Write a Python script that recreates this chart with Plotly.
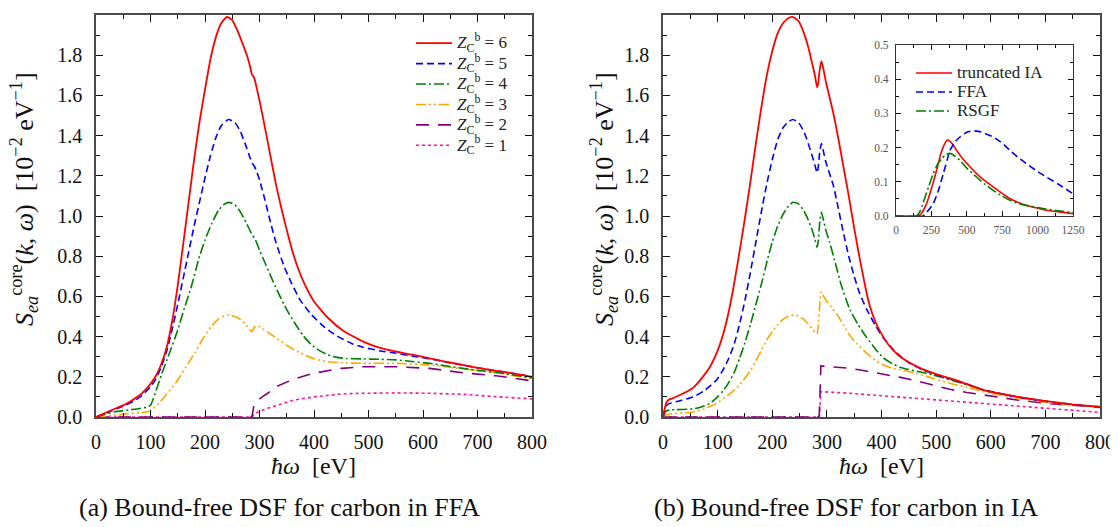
import plotly.graph_objects as go

# ---------------- data: left panel (FFA) ----------------
ffa_z6_x = [0, 10, 25, 40, 55, 70, 85, 100, 110, 120, 130, 140, 150, 160, 170, 180, 190, 200, 210, 220, 230, 240, 250, 260, 270, 278, 283, 286, 290, 295, 300, 310, 320, 330, 340, 350, 360, 370, 383, 400, 425, 453, 490, 520, 551, 580, 612, 640, 673, 700, 734, 770, 800]
ffa_z6_y = [0, 0.012, 0.03, 0.047, 0.065, 0.09, 0.12, 0.165, 0.205, 0.265, 0.35, 0.48, 0.655, 0.86, 1.07, 1.28, 1.47, 1.63, 1.78, 1.89, 1.96, 1.99, 1.975, 1.92, 1.85, 1.79, 1.74, 1.705, 1.69, 1.635, 1.575, 1.44, 1.30, 1.16, 1.04, 0.93, 0.83, 0.745, 0.66, 0.575, 0.495, 0.43, 0.375, 0.345, 0.325, 0.31, 0.292, 0.276, 0.259, 0.245, 0.23, 0.215, 0.2]

ffa_z5_x = [0, 10, 25, 40, 55, 70, 85, 100, 110, 120, 130, 140, 150, 160, 170, 180, 190, 200, 210, 220, 230, 243, 255, 265, 275, 282, 286, 290, 295, 300, 310, 320, 330, 345, 358, 375, 395, 420, 441, 470, 490, 520, 551, 580, 612, 640, 673, 700, 734, 770, 800]
ffa_z5_y = [0, 0.01, 0.027, 0.043, 0.06, 0.08, 0.108, 0.15, 0.19, 0.25, 0.33, 0.44, 0.56, 0.69, 0.82, 0.95, 1.07, 1.19, 1.30, 1.39, 1.45, 1.48, 1.465, 1.42, 1.35, 1.295, 1.265, 1.25, 1.22, 1.18, 1.08, 0.97, 0.87, 0.75, 0.67, 0.58, 0.51, 0.445, 0.405, 0.365, 0.347, 0.33, 0.317, 0.303, 0.29, 0.275, 0.258, 0.245, 0.23, 0.215, 0.2]

ffa_z4_x = [0, 15, 34, 60, 80, 95, 100, 105, 110, 120, 135, 150, 162, 175, 190, 200, 212, 225, 235, 244, 255, 265, 275, 283, 287, 292, 300, 312, 324, 335, 345, 355, 364, 380, 395, 410, 425, 440, 460, 490, 520, 551, 580, 612, 640, 673, 700, 734, 770, 800]
ffa_z4_y = [0, 0.012, 0.026, 0.035, 0.042, 0.05, 0.058, 0.09, 0.13, 0.21, 0.32, 0.433, 0.54, 0.65, 0.80, 0.88, 0.96, 1.03, 1.058, 1.068, 1.055, 1.02, 0.97, 0.925, 0.905, 0.885, 0.83, 0.755, 0.68, 0.615, 0.56, 0.51, 0.47, 0.405, 0.36, 0.33, 0.31, 0.298, 0.291, 0.289, 0.287, 0.284, 0.276, 0.267, 0.255, 0.242, 0.232, 0.222, 0.208, 0.195]

ffa_z3_x = [0, 30, 58, 80, 95, 100, 105, 115, 130, 150, 165, 181, 195, 211, 225, 235, 242, 255, 265, 275, 283, 286, 289, 293, 298, 305, 315, 327, 340, 355, 376, 400, 425, 450, 490, 551, 612, 673, 734, 800]
ffa_z3_y = [0, 0.008, 0.016, 0.021, 0.026, 0.03, 0.042, 0.068, 0.115, 0.184, 0.25, 0.317, 0.385, 0.449, 0.488, 0.503, 0.507, 0.50, 0.485, 0.46, 0.432, 0.424, 0.44, 0.452, 0.452, 0.44, 0.422, 0.40, 0.375, 0.348, 0.317, 0.29, 0.275, 0.27, 0.267, 0.267, 0.259, 0.24, 0.22, 0.19]

ffa_z2_x = [0, 286, 290, 296, 305, 315, 330, 364, 400, 450, 490, 551, 612, 673, 734, 800]
ffa_z2_y = [0, 0, 0.06, 0.08, 0.10, 0.118, 0.15, 0.19, 0.218, 0.242, 0.25, 0.25, 0.242, 0.22, 0.205, 0.18]

ffa_z1_x = [0, 286, 290, 300, 315, 340, 364, 400, 450, 490, 551, 612, 673, 734, 800]
ffa_z1_y = [0, 0, 0.015, 0.028, 0.043, 0.065, 0.085, 0.10, 0.115, 0.118, 0.12, 0.118, 0.113, 0.101, 0.09]

# ---------------- data: right panel (IA) ----------------
ia_z6_x = [0, 3, 6, 10, 15, 30, 45, 55, 70, 86, 100, 110, 120, 130, 140, 150, 160, 170, 180, 190, 200, 210, 220, 230, 238, 248, 258, 266, 273, 278, 282, 284, 287, 290, 293, 298, 305, 312, 320, 330, 340, 350, 360, 368, 375, 383, 392, 403, 415, 430, 450, 475, 500, 525, 560, 587, 620, 648, 680, 709, 750, 800]
ia_z6_y = [0, 0.04, 0.07, 0.085, 0.09, 0.108, 0.128, 0.145, 0.19, 0.25, 0.33, 0.41, 0.52, 0.66, 0.82, 0.99, 1.17, 1.36, 1.54, 1.70, 1.82, 1.91, 1.96, 1.985, 1.99, 1.97, 1.91, 1.84, 1.76, 1.70, 1.64, 1.66, 1.73, 1.77, 1.74, 1.67, 1.59, 1.51, 1.40, 1.25, 1.10, 0.94, 0.79, 0.68, 0.59, 0.515, 0.455, 0.40, 0.352, 0.31, 0.272, 0.238, 0.213, 0.193, 0.16, 0.134, 0.115, 0.101, 0.088, 0.076, 0.062, 0.051]

ia_z5_x = [0, 3, 6, 10, 15, 30, 55, 75, 98, 110, 120, 130, 140, 150, 160, 170, 180, 190, 200, 210, 220, 230, 238, 248, 258, 266, 273, 278, 282, 284, 287, 290, 293, 298, 305, 312, 320, 330, 340, 350, 360, 373, 390, 403, 420, 434, 450, 475, 500, 525, 560, 587, 648, 709, 800]
ia_z5_y = [0, 0.03, 0.055, 0.065, 0.07, 0.08, 0.10, 0.13, 0.184, 0.235, 0.29, 0.36, 0.46, 0.58, 0.72, 0.87, 1.02, 1.16, 1.28, 1.38, 1.44, 1.47, 1.48, 1.465, 1.42, 1.36, 1.30, 1.255, 1.215, 1.24, 1.32, 1.36, 1.33, 1.27, 1.21, 1.15, 1.05, 0.92, 0.80, 0.70, 0.615, 0.535, 0.45, 0.395, 0.34, 0.303, 0.27, 0.235, 0.21, 0.19, 0.16, 0.135, 0.10, 0.075, 0.05]

ia_z4_x = [0, 3, 6, 13, 55, 70, 86, 100, 110, 120, 130, 140, 150, 160, 170, 180, 190, 200, 210, 220, 230, 238, 248, 258, 266, 273, 278, 282, 284, 287, 290, 293, 298, 305, 315, 327, 342, 357, 373, 390, 403, 420, 434, 450, 464, 495, 525, 560, 587, 648, 709, 800]
ia_z4_y = [0, 0.02, 0.03, 0.035, 0.04, 0.05, 0.068, 0.10, 0.13, 0.17, 0.22, 0.29, 0.37, 0.46, 0.56, 0.66, 0.77, 0.87, 0.95, 1.01, 1.05, 1.068, 1.06, 1.025, 0.98, 0.93, 0.885, 0.845, 0.87, 0.97, 1.018, 0.99, 0.93, 0.87, 0.77, 0.65, 0.535, 0.46, 0.395, 0.335, 0.295, 0.265, 0.248, 0.236, 0.228, 0.209, 0.185, 0.158, 0.134, 0.10, 0.075, 0.05]

ia_z3_x = [0, 3, 13, 55, 75, 98, 120, 135, 147, 160, 170, 180, 190, 200, 210, 220, 230, 239, 248, 258, 266, 273, 278, 282, 284, 287, 290, 294, 300, 310, 318, 330, 342, 355, 373, 390, 403, 420, 434, 464, 495, 525, 560, 587, 648, 709, 800]
ia_z3_y = [0, 0.008, 0.015, 0.025, 0.04, 0.068, 0.11, 0.145, 0.184, 0.23, 0.28, 0.33, 0.383, 0.425, 0.46, 0.487, 0.502, 0.507, 0.502, 0.485, 0.462, 0.44, 0.422, 0.413, 0.45, 0.56, 0.623, 0.60, 0.575, 0.54, 0.513, 0.46, 0.405, 0.365, 0.317, 0.28, 0.259, 0.243, 0.235, 0.217, 0.192, 0.168, 0.145, 0.126, 0.095, 0.07, 0.048]

ia_z2_x = [0, 286, 289, 300, 320, 340, 361, 403, 435, 464, 495, 525, 556, 587, 620, 648, 700, 739, 800]
ia_z2_y = [0, 0, 0.254, 0.252, 0.25, 0.243, 0.234, 0.214, 0.197, 0.18, 0.16, 0.138, 0.122, 0.109, 0.097, 0.085, 0.068, 0.06, 0.048]

ia_z1_x = [0, 286, 289, 300, 342, 361, 403, 464, 525, 587, 648, 709, 750, 800]
ia_z1_y = [0, 0, 0.126, 0.125, 0.118, 0.114, 0.105, 0.093, 0.08, 0.068, 0.056, 0.043, 0.034, 0.023]

# ---------------- data: inset ----------------
inset_ia_x = [0, 150, 175, 216, 250, 287, 315, 334, 350, 362, 380, 400, 428, 470, 522, 600, 686, 750, 804, 860, 921, 1000, 1062, 1150, 1250]
inset_ia_y = [0, 0, 0.005, 0.036, 0.08, 0.134, 0.18, 0.202, 0.216, 0.222, 0.219, 0.21, 0.192, 0.168, 0.144, 0.112, 0.085, 0.066, 0.051, 0.04, 0.031, 0.023, 0.017, 0.012, 0.007]

inset_ffa_x = [0, 190, 215, 263, 300, 334, 360, 381, 420, 451, 500, 545, 600, 686, 750, 804, 860, 921, 1000, 1062, 1150, 1250]
inset_ffa_y = [0, 0, 0.01, 0.036, 0.075, 0.124, 0.162, 0.192, 0.218, 0.231, 0.245, 0.249, 0.246, 0.231, 0.213, 0.192, 0.172, 0.153, 0.13, 0.114, 0.092, 0.065]

inset_rsgf_x = [0, 140, 165, 193, 230, 263, 295, 322, 350, 376, 400, 451, 500, 569, 630, 686, 750, 804, 860, 921, 1000, 1062, 1150, 1250]
inset_rsgf_y = [0, 0, 0.01, 0.04, 0.085, 0.124, 0.152, 0.168, 0.178, 0.183, 0.18, 0.163, 0.14, 0.114, 0.092, 0.075, 0.058, 0.046, 0.037, 0.031, 0.025, 0.02, 0.015, 0.01]

z_labels = ["6", "5", "4", "3", "2", "1"]
inset_labels = ["truncated IA", "FFA", "RSGF"]
x_ticks = [0, 100, 200, 300, 400, 500, 600, 700, 800]
y_ticks = [0.0, 0.2, 0.4, 0.6, 0.8, 1.0, 1.2, 1.4, 1.6, 1.8, 2.0]
inset_x_ticks = [0, 250, 500, 750, 1000, 1250]
inset_y_ticks = [0.0, 0.1, 0.2, 0.3, 0.4, 0.5]
captions = ["(a) Bound-free DSF for carbon in FFA", "(b) Bound-free DSF for carbon in IA"]

# ---------------- styles ----------------
colors = ["#FF0000", "#0000FF", "#008000", "#FFA500", "#800080", "#FF1493"]
dashes = ["solid", "7px,4px", "10px,3px,2px,3px", "10px,3px,2px,3px,2px,3px", "13px,9px", "3px,3px"]
widths = [1.8, 1.6, 1.6, 1.6, 1.6, 1.6]
shapes_ = ["spline", "spline", "spline", "spline", "linear", "linear"]
FONT = "Liberation Serif, DejaVu Serif, serif"

# figure is placed 8 px from the page's top-left corner (body margin)
W, H = 1110, 519
OFF = 8


def px(x):
    return (x - OFF) / W


def py(y):
    return 1 - (y - OFF) / H


ffa = [(ffa_z6_x, ffa_z6_y), (ffa_z5_x, ffa_z5_y), (ffa_z4_x, ffa_z4_y),
       (ffa_z3_x, ffa_z3_y), (ffa_z2_x, ffa_z2_y), (ffa_z1_x, ffa_z1_y)]
ia = [(ia_z6_x, ia_z6_y), (ia_z5_x, ia_z5_y), (ia_z4_x, ia_z4_y),
      (ia_z3_x, ia_z3_y), (ia_z2_x, ia_z2_y), (ia_z1_x, ia_z1_y)]
inset = [(inset_ia_x, inset_ia_y), (inset_ffa_x, inset_ffa_y), (inset_rsgf_x, inset_rsgf_y)]

fig = go.Figure()

for i in reversed(range(6)):
    xs, ys = ffa[i]
    fig.add_trace(go.Scatter(
        x=xs, y=ys, mode="lines", xaxis="x", yaxis="y",
        name='<span style="font-size:17px"><i>Z</i><sub>C</sub><sup>b</sup> = ' + z_labels[i] + "</span>",
        line=dict(color=colors[i], dash=dashes[i], width=widths[i], shape=shapes_[i], smoothing=0.5),
        legend="legend", legendrank=i, showlegend=True))
for i in reversed(range(6)):
    xs, ys = ia[i]
    fig.add_trace(go.Scatter(
        x=xs, y=ys, mode="lines", xaxis="x2", yaxis="y2", showlegend=False,
        line=dict(color=colors[i], dash=dashes[i], width=widths[i], shape=shapes_[i], smoothing=0.5)))

inset_colors = ["#FF0000", "#0000FF", "#008000"]
inset_dashes = ["solid", "7px,4px", "10px,3px,2px,3px"]
for i in range(3):
    xs, ys = inset[i]
    fig.add_trace(go.Scatter(
        x=xs, y=ys, mode="lines", xaxis="x3", yaxis="y3",
        name='<span style="font-size:17px">' + inset_labels[i] + "</span>", legend="legend2",
        line=dict(color=inset_colors[i], dash=inset_dashes[i], width=1.6, shape="spline", smoothing=0.5)))

AX_LINE = "#4a4a4a"
TICKC = "#111111"


def main_x(domain, anchor):
    return dict(domain=domain, anchor=anchor, range=[0, 800], tickvals=x_ticks,
                ticktext=[str(v) for v in x_ticks], automargin=False,
                ticks="inside", ticklen=7, tickwidth=1.2, tickcolor=TICKC,
                minor=dict(dtick=50, ticks="inside", ticklen=4, tickwidth=1, tickcolor=TICKC),
                showline=True, linecolor=AX_LINE, linewidth=1.6, mirror="allticks",
                showgrid=False, zeroline=False, ticklabelstandoff=6,
                tickfont=dict(family=FONT, size=20, color="#111"))


def main_y(domain, anchor):
    return dict(domain=domain, anchor=anchor, range=[0, 2.0], tickvals=y_ticks,
                ticktext=["%.1f" % v for v in y_ticks], automargin=False,
                ticks="inside", ticklen=7, tickwidth=1.2, tickcolor=TICKC,
                minor=dict(dtick=0.1, ticks="inside", ticklen=4, tickwidth=1, tickcolor=TICKC),
                showline=True, linecolor=AX_LINE, linewidth=1.6, mirror="allticks",
                showgrid=False, zeroline=False, ticklabelstandoff=8,
                tickfont=dict(family=FONT, size=20, color="#111"))


ydom = [py(417), py(15)]
fig.update_layout(
    width=W, height=H,
    margin=dict(l=0, r=0, t=0, b=0, pad=0, autoexpand=False),
    paper_bgcolor="white", plot_bgcolor="white",
    font=dict(family=FONT, color="#111", size=16),
    xaxis=main_x([px(96), px(532)], "y"),
    yaxis=main_y(ydom, "x"),
    xaxis2=main_x([px(663), px(1100)], "y2"),
    yaxis2=main_y(ydom, "x2"),
    xaxis3=dict(domain=[px(896), px(1073)], anchor="y3", range=[0, 1250], automargin=False,
                tickvals=inset_x_ticks, ticks="inside", ticklen=5, tickwidth=1, tickcolor=TICKC,
                minor=dict(dtick=125, ticks="inside", ticklen=3, tickwidth=1, tickcolor=TICKC),
                showline=True, linecolor="#333", linewidth=1.3, mirror="allticks",
                showgrid=False, zeroline=False, ticklabelstandoff=3,
                tickfont=dict(family=FONT, size=11.5, color="#555")),
    yaxis3=dict(domain=[py(216), py(45)], anchor="x3", range=[0, 0.5], automargin=False,
                tickvals=inset_y_ticks, ticktext=["%.1f" % v for v in inset_y_ticks],
                ticks="inside", ticklen=5, tickwidth=1, tickcolor=TICKC,
                minor=dict(dtick=0.05, ticks="inside", ticklen=3, tickwidth=1, tickcolor=TICKC),
                showline=True, linecolor="#333", linewidth=1.3, mirror="allticks",
                showgrid=False, zeroline=False, ticklabelstandoff=4,
                tickfont=dict(family=FONT, size=11.5, color="#555")),
    legend=dict(x=px(411), y=py(28), xanchor="left", yanchor="top",
                bgcolor="rgba(0,0,0,0)", borderwidth=0, tracegroupgap=0, itemwidth=36,
                font=dict(family=FONT, size=13.4, color="#222"), traceorder="normal"),
    legend2=dict(x=px(911), y=py(58.5), xanchor="left", yanchor="top",
                 bgcolor="rgba(0,0,0,0)", borderwidth=0, itemwidth=36,
                 font=dict(family=FONT, size=11.5, color="#222")),
)

ytitle = "<i>S</i><sub><i>ea</i></sub><sup>core</sup>(<i>k</i>, <i>ω</i>)  [10<sup>−2</sup> eV<sup>−1</sup>]"
xtitle = "<i>ħω</i>  [eV]"
ann = []
for xc, xl in [(24, 313), (604, 881)]:
    ann.append(dict(x=px(xc), y=py(199), xref="paper", yref="paper", text=ytitle,
                    textangle=-90, showarrow=False, xanchor="center", yanchor="middle",
                    font=dict(family=FONT, size=26, color="#111")))
    ann.append(dict(x=px(xl), y=py(466), xref="paper", yref="paper", text=xtitle,
                    showarrow=False, xanchor="center", yanchor="middle",
                    font=dict(family=FONT, size=24, color="#111")))
for cap, xc in zip(captions, [279, 846]):
    ann.append(dict(x=px(xc), y=py(507), xref="paper", yref="paper", text=cap,
                    showarrow=False, xanchor="center", yanchor="middle",
                    font=dict(family=FONT, size=26, color="#111")))
fig.update_layout(annotations=ann)

fig.write_html("out.html")
